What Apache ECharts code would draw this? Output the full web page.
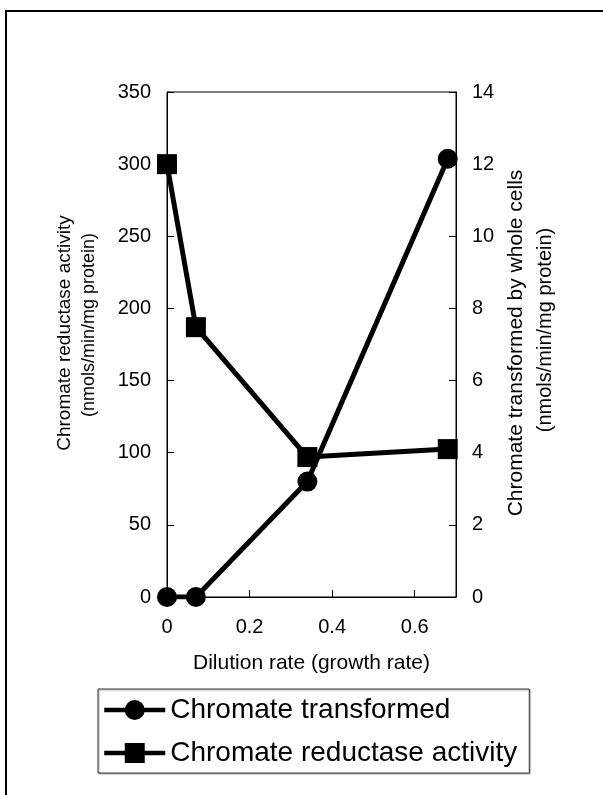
<!DOCTYPE html>
<html>
<head>
<meta charset="utf-8">
<script src="https://cdn.jsdelivr.net/npm/echarts@6/dist/echarts.min.js"></script>
<style>
html,body{margin:0;padding:0;background:#fff;}
#chart{width:603px;height:795px;}
</style>
</head>
<body>
<div id="chart"></div>
<script>
var dilutionRate = [0, 0.07, 0.34, 0.68];
var chromateTransformed = [0, 0, 3.2, 12.15];
var reductaseActivity = [300, 187, 97, 102.5];
var xTicks = [0, 0.2, 0.4, 0.6];
var leftTicks = [0, 50, 100, 150, 200, 250, 300, 350];
var rightTicks = [0, 2, 4, 6, 8, 10, 12, 14];
var seriesNames = ['Chromate transformed', 'Chromate reductase activity'];

var FONT = '"Liberation Sans", Arial, sans-serif';
var chart = echarts.init(document.getElementById('chart'), null, {renderer: 'canvas'});

function pairs(xs, ys) { return xs.map(function (x, i) { return [x, ys[i]]; }); }

var axisCommon = {
  axisLine: {show: true, lineStyle: {color: '#000', width: 1}},
  axisTick: {show: true, inside: true, length: 7, lineStyle: {color: '#000', width: 1}},
  splitLine: {show: false},
  axisLabel: {color: '#000', fontFamily: FONT, fontSize: 20, margin: 16}
};

var option = {
  animation: false,
  backgroundColor: '#fff',
  grid: {left: 167, top: 92, right: 147, bottom: 198, show: true, borderColor: '#000', borderWidth: 1, backgroundColor: 'transparent'},
  xAxis: Object.assign({}, axisCommon, {
    type: 'value', min: 0, max: 0.7, interval: 0.2,
    axisLabel: Object.assign({}, axisCommon.axisLabel, {margin: 20, showMaxLabel: false,
      formatter: function (v) { return xTicks.indexOf(Math.round(v * 10) / 10) >= 0 ? String(Math.round(v * 10) / 10) : ''; }}),
    name: 'Dilution rate (growth rate)', nameLocation: 'middle', nameGap: 56,
    nameTextStyle: {color: '#000', fontFamily: FONT, fontSize: 21}
  }),
  yAxis: [
    Object.assign({}, axisCommon, {type: 'value', min: leftTicks[0], max: leftTicks[leftTicks.length - 1], interval: 50, position: 'left'}),
    Object.assign({}, axisCommon, {type: 'value', min: rightTicks[0], max: rightTicks[rightTicks.length - 1], interval: 2, position: 'right'})
  ],
  legend: {
    orient: 'vertical', left: 98, top: 689,
    data: seriesNames,
    itemWidth: 61, itemHeight: 25, itemGap: 15,
    padding: [7, 12, 6, 4],
    borderColor: '#333', borderWidth: 1,
    shadowColor: 'rgba(0,0,0,0.35)', shadowOffsetX: 1, shadowOffsetY: 1, shadowBlur: 1,
    backgroundColor: '#fff',
    lineStyle: {width: 4.5, color: '#000'},
    textStyle: {color: '#000', fontFamily: FONT, fontSize: 28, lineHeight: 25, padding: [0, 0, 0, 0]},
    selectedMode: false
  },
  series: [
    {
      name: seriesNames[0], type: 'line', yAxisIndex: 1,
      data: pairs(dilutionRate, chromateTransformed),
      symbol: 'circle', symbolSize: 20,
      lineStyle: {color: '#000', width: 5},
      itemStyle: {color: '#000'}, z: 3
    },
    {
      name: seriesNames[1], type: 'line', yAxisIndex: 0,
      data: pairs(dilutionRate, reductaseActivity),
      symbol: 'rect', symbolSize: 20,
      lineStyle: {color: '#000', width: 5},
      itemStyle: {color: '#000'}, z: 4
    }
  ],
  graphic: [
    {type: 'rect', shape: {x: 6, y: 11, width: 700, height: 900}, style: {fill: 'none', stroke: '#000', lineWidth: 2}, silent: true, z: 0},
    {type: 'text', x: 65, y: 333, rotation: Math.PI / 2, style: {text: 'Chromate reductase activity', fill: '#000', font: '19px ' + FONT, align: 'center', verticalAlign: 'middle'}},
    {type: 'text', x: 89, y: 325, rotation: Math.PI / 2, style: {text: '(nmols/min/mg protein)', fill: '#000', font: '18px ' + FONT, align: 'center', verticalAlign: 'middle'}},
    {type: 'text', x: 516, y: 343, rotation: Math.PI / 2, style: {text: 'Chromate transformed by whole cells', fill: '#000', font: '21px ' + FONT, align: 'center', verticalAlign: 'middle'}},
    {type: 'text', x: 545, y: 330, rotation: Math.PI / 2, style: {text: '(nmols/min/mg protein)', fill: '#000', font: '20px ' + FONT, align: 'center', verticalAlign: 'middle'}}
  ]
};
chart.setOption(option);
</script>
</body>
</html>
